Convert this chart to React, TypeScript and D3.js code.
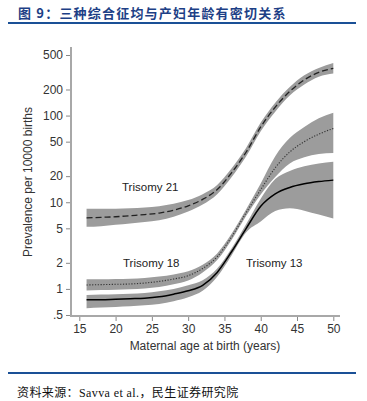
import React, { useEffect, useRef } from "react";
import * as d3 from "d3";

const AGES = [16, 18, 20, 22, 24, 26, 28, 30, 32, 34, 36, 38, 40, 42, 44, 46, 48, 50];

const T21_MID = [6.6, 6.7, 6.8, 7.0, 7.2, 7.5, 8.1, 9.1, 10.8, 14, 22, 38, 74, 125, 190, 258, 315, 350];
const T21_LO = [5.2, 5.3, 5.5, 5.7, 5.9, 6.2, 6.8, 7.8, 9.4, 12.4, 19.6, 34, 66, 111, 170, 228, 280, 305];
const T21_HI = [8.4, 8.4, 8.4, 8.5, 8.7, 9.0, 9.6, 10.6, 12.4, 15.8, 24.6, 42.5, 83, 141, 214, 292, 355, 405];

const T18_MID = [1.11, 1.12, 1.13, 1.14, 1.17, 1.22, 1.3, 1.42, 1.72, 2.35, 4.0, 7.6, 14, 25, 38, 50, 61, 71];
const T18_LO = [0.96, 0.97, 0.98, 0.99, 1.01, 1.05, 1.13, 1.25, 1.55, 2.15, 3.7, 7.0, 12.3, 19.5, 28, 33, 36, 37];
const T18_HI = [1.29, 1.29, 1.3, 1.31, 1.34, 1.39, 1.47, 1.6, 1.9, 2.57, 4.35, 8.3, 16.5, 34, 55, 74, 93, 108];

const T13_MID = [0.75, 0.75, 0.76, 0.77, 0.78, 0.81, 0.87, 0.95, 1.1, 1.55, 2.7, 5.0, 9, 12.5, 14.8, 16.3, 17.3, 18];
const T13_LO = [0.6, 0.61, 0.62, 0.63, 0.65, 0.67, 0.72, 0.8, 0.95, 1.38, 2.45, 4.5, 6.0, 7.9, 8.5, 8.0, 7.2, 6.5];
const T13_HI = [0.85, 0.86, 0.87, 0.88, 0.9, 0.94, 1.0, 1.1, 1.26, 1.72, 2.95, 5.6, 11, 18.5, 23, 26, 28, 29.4];

const X_TICKS = [15, 20, 25, 30, 35, 40, 45, 50];
const Y_TICKS = [0.5, 1, 2, 5, 10, 20, 50, 100, 200, 500];

const SERIES = [
  { name: "Trisomy 21", mid: T21_MID, lo: T21_LO, hi: T21_HI, dash: "6,3", width: 1.3, color: "#222", lx: 122, ly: 191 },
  { name: "Trisomy 18", mid: T18_MID, lo: T18_LO, hi: T18_HI, dash: "1.2,1.6", width: 1.1, color: "#333", lx: 123, ly: 267 },
  { name: "Trisomy 13", mid: T13_MID, lo: T13_LO, hi: T13_HI, dash: null, width: 1.5, color: "#000", lx: 246, ly: 267 },
];

const W = 367, H = 401;
const SANS = "'Liberation Sans', Arial, sans-serif";

const App = () => {
  const ref = useRef<SVGSVGElement | null>(null);

  useEffect(() => {
    const svg = d3.select(ref.current);
    svg.selectAll("*").remove();

    const x = d3.scaleLinear().domain([15, 50]).range([79.3, 333.3]);
    const y = d3.scaleLog().domain([0.5, 500]).range([315, 55]);

    // header
    svg.append("text")
      .attr("x", 18).attr("y", 18)
      .style("font-family", "'Noto Sans CJK SC', sans-serif")
      .style("font-size", "13px").style("font-weight", 700)
      .style("letter-spacing", "1.2px")
      .style("fill", "#1d3f86")
      .text("图 9：三种综合征均与产妇年龄有密切关系");
    svg.append("line")
      .attr("x1", 8).attr("x2", 356).attr("y1", 23).attr("y2", 23)
      .style("stroke", "#1a5096").style("stroke-width", 2.2);

    // bands
    SERIES.forEach((s) => {
      const area = d3.area<number>()
        .x((d, i) => x(AGES[i]))
        .y0((d, i) => y(s.lo[i]))
        .y1((d, i) => y(s.hi[i]))
        .curve(d3.curveMonotoneX);
      svg.append("path")
        .datum(s.mid)
        .attr("d", area)
        .style("fill", "#9c9c9c");
    });

    // centre lines
    SERIES.forEach((s) => {
      const line = d3.line<number>()
        .x((d, i) => x(AGES[i]))
        .y((d) => y(d))
        .curve(d3.curveMonotoneX);
      const p = svg.append("path")
        .datum(s.mid)
        .attr("d", line)
        .style("fill", "none")
        .style("stroke", s.color)
        .style("stroke-width", s.width);
      if (s.dash) p.style("stroke-dasharray", s.dash);

      svg.append("text")
        .attr("x", s.lx).attr("y", s.ly)
        .style("font-family", SANS).style("font-size", "11.5px")
        .style("fill", "#222")
        .text(s.name);
    });

    // y axis
    const yAxis = svg.append("g").attr("transform", "translate(71,0)");
    yAxis.call(d3.axisLeft(y).tickValues(Y_TICKS).tickSize(5).tickPadding(3)
      .tickFormat((d) => (d === 0.5 ? ".5" : String(d))));
    yAxis.select(".domain").remove();
    yAxis.append("line").attr("x1", 0).attr("x2", 0).attr("y1", 47).attr("y2", 316)
      .style("stroke", "#a8a8a8").style("stroke-width", 2);

    // x axis
    const xAxis = svg.append("g").attr("transform", "translate(0,316)");
    xAxis.call(d3.axisBottom(x).tickValues(X_TICKS).tickSize(5).tickPadding(3));
    xAxis.select(".domain").remove();
    xAxis.append("line").attr("x1", 70).attr("x2", 340).attr("y1", 0).attr("y2", 0)
      .style("stroke", "#a8a8a8").style("stroke-width", 2);

    svg.selectAll(".tick line").style("stroke", "#888");
    svg.selectAll(".tick text")
      .style("font-family", SANS).style("font-size", "12px").style("fill", "#333");

    // axis titles
    svg.append("text")
      .attr("transform", "translate(32,182) rotate(-90)")
      .attr("text-anchor", "middle")
      .style("font-family", SANS).style("font-size", "12px").style("fill", "#333")
      .text("Prevalence per 10000 births");
    svg.append("text")
      .attr("x", 205).attr("y", 350)
      .attr("text-anchor", "middle")
      .style("font-family", SANS).style("font-size", "12px").style("fill", "#333")
      .text("Maternal age at birth (years)");

    // footer
    svg.append("line")
      .attr("x1", 8).attr("x2", 356).attr("y1", 373).attr("y2", 373)
      .style("stroke", "#1a5096").style("stroke-width", 2);
    svg.append("text")
      .attr("x", 17).attr("y", 397)
      .style("font-family", "'Liberation Serif', 'Noto Sans CJK SC', serif")
      .style("font-size", "12px").style("letter-spacing", "0.4px").style("fill", "#111")
      .text("资料来源：Savva et al.，民生证券研究院");
  }, []);

  return (
    <svg ref={ref} width={W} height={H}
      style={{ position: "absolute", left: 0, top: 0, background: "#fff" }} />
  );
};

export default App;
